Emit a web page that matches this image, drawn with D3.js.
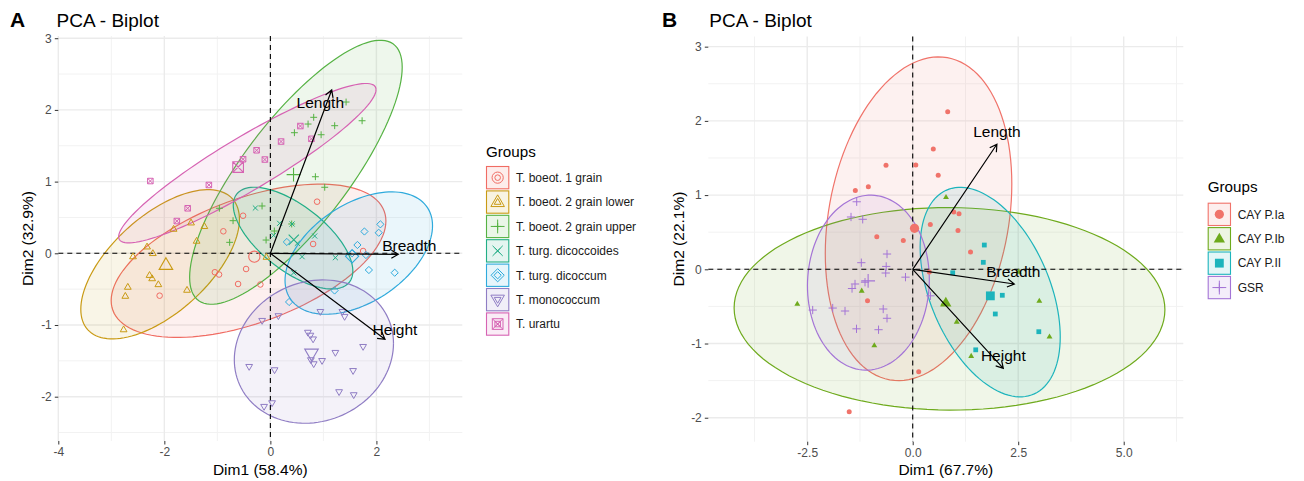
<!DOCTYPE html>
<html><head><meta charset="utf-8">
<script src="https://cdn.jsdelivr.net/npm/d3@7"></script>
<style>body{margin:0;background:#fff;} svg{font-family:"Liberation Sans",Arial,Helvetica,sans-serif;}</style>
</head><body><svg id="c" width="1304" height="481"></svg>
<script>
// ---------------- DATA: panel A ----------------
const groupsA = ["T. boeot. 1 grain","T. boeot. 2 grain lower","T. boeot. 2 grain upper","T. turg. dicoccoides","T. turg. dicoccum","T. monococcum","T. urartu"];
const colorsA = ["#F06C63","#C99A14","#55B243","#22AE86","#2EAADC","#8F7DC4","#D663B3"];
const shapesA = ["circle","triangle","plus","cross","diamond","triangleDown","squareX"];
const a1grain = [[-0.887,0.307],[-0.515,0.524],[0.881,0.720],[0.806,0.130],[1.749,0.032],[-1.047,-0.264],[-0.968,-0.296],[-0.458,-0.219],[-0.609,-0.428],[-0.189,-0.435],[-2.089,-0.591]];
const a2lower = [[-1.496,0.427],[-1.245,0.377],[-1.825,0.339],[-1.391,0.172],[-2.326,0.092],[-2.217,0.000],[-2.591,-0.045],[-2.279,-0.305],[-2.230,-0.351],[-2.113,-0.434],[-2.689,-0.470],[-2.736,-0.596],[-1.572,-0.512],[-2.768,-1.063],[-0.075,-0.052]];
const a2upper = [[1.428,2.110],[1.730,1.849],[1.213,1.780],[0.817,1.897],[0.711,1.803],[0.957,1.654],[0.453,1.682],[0.849,1.068],[1.025,0.921],[-0.157,0.660],[-0.962,0.628],[-0.704,0.455],[-0.768,0.153],[-0.081,0.185],[0.075,0.311],[0.402,0.409]];
const aDicoccoides = [[-0.283,0.632],[0.175,0.418],[0.409,0.409],[0.062,0.251],[0.836,0.241],[0.509,0.139],[0.598,-0.047],[1.226,-0.061],[0.440,-0.271]];
const aDicoccum = [[2.075,0.404],[2.043,0.287],[1.774,0.304],[1.642,0.116],[1.542,0.000],[1.802,-0.024],[1.858,-0.233],[2.345,-0.271],[1.211,-0.519],[0.353,-0.679],[0.311,0.158]];
const aMonococcum = [[0.943,-0.815],[1.358,-0.815],[1.400,-0.884],[-0.155,-0.940],[0.151,-0.874],[0.708,-1.105],[0.755,-1.146],[0.806,-1.198],[0.764,-1.488],[0.817,-1.544],[0.975,-1.499],[1.226,-1.386],[1.749,-1.303],[-0.400,-1.582],[0.079,-1.628],[1.560,-1.639],[1.296,-1.934],[1.572,-1.976],[-0.119,-2.139],[0.032,-2.088]];
const aUrartu = [[-2.264,1.008],[-1.160,0.953],[-1.560,0.628],[-1.764,0.450],[-0.515,1.312],[-0.260,1.437],[-0.104,1.308],[0.202,1.559],[0.566,1.775],[0.774,1.597]];
const varNames = ["Length","Breadth","Height"];
const varAx = [1.157, 2.413, 2.162];
const varAy = [2.278, -0.014, -1.199];
const xTicksA = [-4,-2,0,2];
const yTicksA = [-2,-1,0,1,2,3];

// ---------------- DATA: panel B ----------------
const groupsB = ["CAY P.Ia","CAY P.Ib","CAY P.II","GSR"];
const colorsB = ["#F0736A","#6EAA1C","#1DB4BC","#A474D6"];
const shapesB = ["fcircle","ftriangle","fsquare","plus"];
const bIa = [[0.829,2.123],[0.488,1.621],[-0.633,1.402],[0.073,1.406],[0.604,1.268],[-1.360,1.062],[-1.052,1.112],[0.972,0.772],[1.097,0.749],[0.417,0.604],[1.073,0.523],[-0.851,0.438],[-0.223,0.387],[1.370,0.233],[0.393,-0.036],[-1.071,-0.423],[0.142,-1.381],[-1.505,-1.919]];
const bIb = [[0.789,0.972],[0.725,-0.461],[1.043,-0.706],[1.386,-1.168],[2.512,-0.032],[3.000,-0.425],[3.242,-0.906],[-2.735,-0.465],[-1.209,-0.288],[-0.910,-1.024]];
const bII = [[1.697,0.327],[1.673,0.094],[0.948,-0.047],[2.123,-0.350],[1.957,-0.602],[2.988,-0.841],[1.493,-1.085]];
const bGSR = [[-1.327,0.910],[-1.462,0.705],[-1.185,0.674],[-0.609,0.206],[-1.218,0.089],[-0.628,0.039],[-0.640,-0.050],[-0.171,-0.106],[-1.367,-0.198],[-1.438,-0.259],[-1.130,-0.174],[-2.370,-0.549],[-1.896,-0.522],[-1.604,-0.562],[-0.699,-0.535],[-0.609,-0.660],[-1.332,-0.802],[-0.810,-0.814],[0.419,-0.357]];
const varBx = [1.995, 2.408, 2.147];
const varBy = [1.685, -0.198, -1.334];
const xTicksB = [-2.5,0,2.5,5];
const yTicksB = [-2,-1,0,1,2,3];

// ---------------- helpers ----------------
function covTrob(pts, nu=5, maxit=25, tol=0.01){
  const n = pts.length, p = 2;
  let loc = [d3.mean(pts,d=>d[0]), d3.mean(pts,d=>d[1])];
  let w = pts.map(()=>1), X;
  for(let it=0; it<maxit; it++){
    const w0 = w.slice();
    X = pts.map(d=>[d[0]-loc[0], d[1]-loc[1]]);
    const sw = d3.sum(w);
    let a=0,b=0,c=0;
    X.forEach((v,i)=>{a+=w[i]*v[0]*v[0]/sw; b+=w[i]*v[0]*v[1]/sw; c+=w[i]*v[1]*v[1]/sw;});
    const det = a*c-b*b;
    const Q = X.map(v=>(c*v[0]*v[0]-2*b*v[0]*v[1]+a*v[1]*v[1])/det);
    w = Q.map(q=>(nu+p)/(nu+q));
    const sw2 = d3.sum(w);
    loc = [d3.sum(pts,(d,i)=>w[i]*d[0])/sw2, d3.sum(pts,(d,i)=>w[i]*d[1])/sw2];
    if (w.every((v,i)=>Math.abs(v-w0[i])<tol)) break;
  }
  let a=0,b=0,c=0;
  X.forEach((v,i)=>{a+=w[i]*v[0]*v[0]; b+=w[i]*v[0]*v[1]; c+=w[i]*v[1]*v[1];});
  return {cov:[[a/n,b/n],[b/n,c/n]], center:loc};
}
function ellipsePts(pts, level=0.95, seg=120){
  const n = pts.length, dfd = n-1;
  const q = dfd/2*(Math.pow(1-level,-2/dfd)-1);
  const radius = Math.sqrt(2*q);
  const {cov, center} = covTrob(pts);
  const r11 = Math.sqrt(cov[0][0]), r12 = cov[0][1]/r11, r22 = Math.sqrt(cov[1][1]-r12*r12);
  const out = [];
  for(let i=0;i<=seg;i++){
    const t = i*2*Math.PI/seg, co=Math.cos(t), si=Math.sin(t);
    out.push([center[0]+radius*co*r11, center[1]+radius*(co*r12+si*r22)]);
  }
  return out;
}
function symbolPath(shape, s){
  switch(shape){
    case "circle": case "fcircle":
      return `M${-s},0A${s},${s} 0 1,0 ${s},0A${s},${s} 0 1,0 ${-s},0Z`;
    case "triangle": case "ftriangle":
      return `M0,${-1.2*s}L${1.13*s},${0.75*s}L${-1.13*s},${0.75*s}Z`;
    case "triangleDown":
      return `M0,${1.2*s}L${1.13*s},${-0.75*s}L${-1.13*s},${-0.75*s}Z`;
    case "plus": { const h=1.15*s; return `M${-h},0H${h}M0,${-h}V${h}`; }
    case "cross": { const h=0.85*s; return `M${-h},${-h}L${h},${h}M${-h},${h}L${h},${-h}`; }
    case "diamond": { const h=1.2*s; return `M0,${-h}L${h},0L0,${h}L${-h},0Z`; }
    case "squareX": case "fsquare": { const h=0.92*s; const base=`M${-h},${-h}H${h}V${h}H${-h}Z`; return shape==="squareX"? base+`M${-h},${-h}L${h},${h}M${-h},${h}L${h},${-h}`: base; }
  }
}
function isFilled(shape){ return shape[0]==="f"; }

const svg = d3.select("#c");

function drawPanel(cfg){
  const {x, y, xTicks, yTicks, xMinor, yMinor, groups, colors, shapes, data, vx, vy, ldx, ldy, sSmall, sBig, xfmt} = cfg;
  const g = svg.append("g");
  const [x0,x1] = x.range(), [y0,y1] = y.range();
  // grid
  g.selectAll(".gminx").data(xMinor).join("line").attr("x1",d=>x(d)).attr("x2",d=>x(d)).attr("y1",y1).attr("y2",y0).attr("stroke","#F2F2F2").attr("stroke-width",1);
  g.selectAll(".gminy").data(yMinor).join("line").attr("y1",d=>y(d)).attr("y2",d=>y(d)).attr("x1",x0).attr("x2",x1).attr("stroke","#F2F2F2").attr("stroke-width",1);
  g.selectAll(".gmajx").data(xTicks).join("line").attr("x1",d=>x(d)).attr("x2",d=>x(d)).attr("y1",y1).attr("y2",y0).attr("stroke","#EBEBEB").attr("stroke-width",1.4);
  g.selectAll(".gmajy").data(yTicks).join("line").attr("y1",d=>y(d)).attr("y2",d=>y(d)).attr("x1",x0).attr("x2",x1).attr("stroke","#EBEBEB").attr("stroke-width",1.4);
  // ellipses
  const line = d3.line().x(d=>x(d[0])).y(d=>y(d[1]));
  data.forEach((pts,i)=>{
    g.append("path").attr("d", line(ellipsePts(pts))).attr("fill",colors[i]).attr("fill-opacity",0.1)
      .attr("stroke",colors[i]).attr("stroke-width",1.2);
  });
  // zero lines
  g.append("line").attr("x1",x0).attr("x2",x1).attr("y1",y(0)).attr("y2",y(0)).attr("stroke","#000").attr("stroke-width",1.1).attr("stroke-dasharray","5,4");
  g.append("line").attr("x1",x(0)).attr("x2",x(0)).attr("y1",y1).attr("y2",y0).attr("stroke","#000").attr("stroke-width",1.1).attr("stroke-dasharray","5,4");
  // points
  data.forEach((pts,i)=>{
    const sh = shapes[i], f = isFilled(sh);
    g.selectAll(null).data(pts).join("path").attr("d",symbolPath(sh,sSmall[i]))
      .attr("transform",d=>`translate(${x(d[0])},${y(d[1])})`)
      .attr("fill", f? colors[i] : "none").attr("stroke", f? "none": colors[i]).attr("stroke-width",1);
    const m = [d3.mean(pts,d=>d[0]), d3.mean(pts,d=>d[1])];
    g.append("path").attr("d",symbolPath(sh,sBig[i]))
      .attr("transform",`translate(${x(m[0])},${y(m[1])})`)
      .attr("fill", f? colors[i] : "none").attr("stroke", f? "none": colors[i]).attr("stroke-width",1.1);
  });
  // arrows
  varNames.forEach((nm,i)=>{
    const tx = x(vx[i]), ty = y(vy[i]), ox = x(0), oy = y(0);
    const ang = Math.atan2(ty-oy, tx-ox), L = 8, hw = Math.PI/6;
    const p = `M${ox},${oy}L${tx},${ty}M${tx-L*Math.cos(ang-hw)},${ty-L*Math.sin(ang-hw)}L${tx},${ty}L${tx-L*Math.cos(ang+hw)},${ty-L*Math.sin(ang+hw)}`;
    g.append("path").attr("d",p).attr("fill","none").attr("stroke","#000").attr("stroke-width",1.2);
    g.append("text").attr("x",tx+ldx[i]).attr("y",ty+ldy[i]).attr("dy","0.36em").attr("text-anchor","middle")
      .attr("font-size","15.5px").attr("fill","#000").text(nm);
  });
  // axes
  const ax = g.append("g").attr("transform",`translate(0,${y0})`).call(d3.axisBottom(x).tickValues(xTicks).tickSize(3.5).tickPadding(3).tickFormat(xfmt));
  const ay = g.append("g").attr("transform",`translate(${x0},0)`).call(d3.axisLeft(y).tickValues(yTicks).tickSize(3.5).tickPadding(3).tickFormat(d=>String(d)));
  [ax,ay].forEach(a=>{ a.select(".domain").remove(); a.selectAll("line").attr("stroke","#333"); a.selectAll("text").attr("fill","#4D4D4D").attr("font-size","12px").attr("font-family","Liberation Sans, Arial, sans-serif"); });
}

const xA = d3.scaleLinear().domain([-4.0, 3.62]).range([58.3, 462.3]);
const yA = d3.scaleLinear().domain([-2.618, 3.031]).range([441, 36]);
const xB = d3.scaleLinear().domain([-4.844, 6.412]).range([708.3, 1183.3]);
const yB = d3.scaleLinear().domain([-2.323, 3.137]).range([441.7, 36.5]);

drawPanel({x:xA, y:yA, xTicks:xTicksA, yTicks:yTicksA, xMinor:[-3,-1,1,3], yMinor:[-2.5,-1.5,-0.5,0.5,1.5,2.5],
  groups:groupsA, colors:colorsA, shapes:shapesA,
  data:[a1grain,a2lower,a2upper,aDicoccoides,aDicoccum,aMonococcum,aUrartu],
  vx:varAx, vy:varAy, ldx:[-11.4,11,10], ldy:[12.4,-8.6,-10.3],
  sSmall:[2.8,3,3,3,3,3,3], sBig:[5.6,6,6,6,5.5,6,5.8], xfmt:d=>String(d)});
drawPanel({x:xB, y:yB, xTicks:xTicksB, yTicks:yTicksB, xMinor:[-3.75,-1.25,1.25,3.75,6.25], yMinor:[-1.5,-0.5,0.5,1.5,2.5],
  groups:groupsB, colors:colorsB, shapes:shapesB,
  data:[bIa,bIb,bII,bGSR],
  vx:varBx, vy:varBy, ldx:[0,-1,0], ldy:[-13.3,-13,-12.6],
  sSmall:[2.5,2.6,2.6,3.6], sBig:[4.6,5,4.8,6], xfmt:d=>d.toFixed(1)});

// titles and axis titles
function txt(x,y,s,size,opts={}){
  const t = svg.append("text").attr("x",x).attr("y",y).attr("font-size",size+"px").attr("fill",opts.fill||"#000").text(s);
  if(opts.bold) t.attr("font-weight","bold");
  if(opts.anchor) t.attr("text-anchor",opts.anchor);
  if(opts.rot) t.attr("transform",`rotate(-90,${x},${y})`);
  if(opts.dy) t.attr("dy",opts.dy);
  return t;
}
txt(10,26.8,"A",21,{bold:true});
txt(56.5,27.3,"PCA - Biplot",19);
txt(662,26.8,"B",21,{bold:true});
txt(709.3,27.3,"PCA - Biplot",19);
txt(260.3,469.5,"Dim1 (58.4%)",15.5,{anchor:"middle",dy:"0.36em"});
txt(945.8,469.5,"Dim1 (67.7%)",15.5,{anchor:"middle",dy:"0.36em"});
txt(27,238.5,"Dim2 (32.9%)",15.5,{anchor:"middle",dy:"0.36em",rot:true});
txt(678.3,239,"Dim2 (22.1%)",15.5,{anchor:"middle",dy:"0.36em",rot:true});

// legends
function legend(x0, yTitle, yKey0, step, names, colors, shapes, sSmall, sBig){
  const g = svg.append("g");
  txt(x0, yTitle, "Groups", 15.2, {dy:"0.36em"});
  names.forEach((nm,i)=>{
    const ky = yKey0 + i*step, ks = 23.3;
    g.append("rect").attr("x",x0+0.5).attr("y",ky+0.5).attr("width",ks-1).attr("height",ks-1)
      .attr("fill",colors[i]).attr("fill-opacity",0.12).attr("stroke",colors[i]).attr("stroke-width",1.1);
    const f = isFilled(shapes[i]);
    [sBig[i], sSmall[i]].forEach(s=>{
      g.append("path").attr("d",symbolPath(shapes[i],s)).attr("transform",`translate(${x0+ks/2},${ky+ks/2})`)
        .attr("fill", f? colors[i]:"none").attr("stroke", f? "none":colors[i]).attr("stroke-width",1);
    });
    txt(x0+30, ky+ks/2, nm, 12, {dy:"0.36em", fill:"#1A1A1A"});
  });
}
legend(486, 151.7, 166, 24.4, groupsA, colorsA, shapesA, [2.8,3,3,3,3,3,3], [5.6,6,6,6,5.5,6,5.8]);
legend(1207.7, 186.7, 202.7, 24.4, groupsB, colorsB, shapesB, [2.5,2.6,2.6,3.6], [4.6,5,4.8,6]);
</script></body></html>
